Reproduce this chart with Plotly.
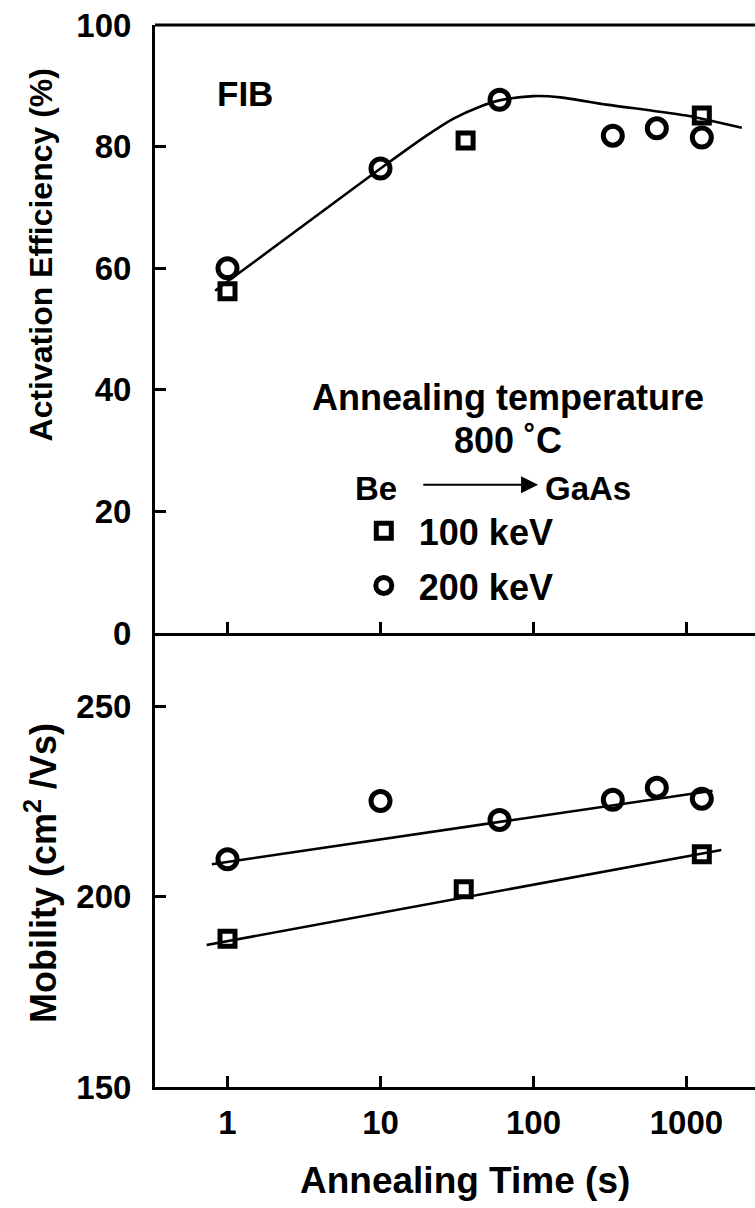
import plotly.graph_objects as go
from plotly.subplots import make_subplots

# ---------------- data ----------------
# Activation efficiency (%), top panel
time_100 = [1, 36, 1260]
eff_100 = [56.2, 81.0, 85.1]
time_200 = [1, 10, 60, 330, 640, 1260]
eff_200 = [60.0, 76.4, 87.7, 81.8, 83.0, 81.5]

# guide curve through the efficiency data
eff_fit_time = [0.83, 1, 2, 5, 10, 20, 30, 45, 60, 100, 150, 300, 600, 1000, 1600, 2300]
eff_fit = [56.3, 57.8, 63.4, 70.8, 76.4, 81.8, 84.6, 86.6, 87.6, 88.3, 88.1, 86.9, 85.9, 85.1, 84.0, 83.1]

# Mobility (cm2/Vs), bottom panel
mob_time_100 = [1, 35, 1260]
mob_100 = [188.9, 201.9, 211.1]
mob_time_200 = [1, 10, 60, 330, 640, 1260]
mob_200 = [209.8, 225.1, 220.1, 225.4, 228.6, 225.7]

# straight guide lines through the mobility data
mob_fit_time_200 = [0.79, 1480]
mob_fit_200 = [208.5, 227.8]
mob_fit_time_100 = [0.73, 1690]
mob_fit_100 = [187.3, 212.2]

x_tickvals = [1, 10, 100, 1000]
x_ticktext = ["1", "10", "100", "1000"]
eff_ticks = [0, 20, 40, 60, 80, 100]
mob_ticks = [150, 200, 250]

# ---------------- figure ----------------
FONT = "Liberation Sans, Arial, Helvetica, sans-serif"
BLACK = "black"

fig = make_subplots(rows=2, cols=1, shared_xaxes=False, vertical_spacing=0,
                    row_heights=[0.5725, 0.4275])

sq_marker = dict(symbol="square-open", size=15, color=BLACK, line=dict(width=5, color=BLACK))
ci_marker = dict(symbol="circle-open", size=19, color=BLACK, line=dict(width=5, color=BLACK))
line_style = dict(color=BLACK, width=2.6)

# top panel
fig.add_trace(go.Scatter(x=eff_fit_time, y=eff_fit, mode="lines",
                         line=dict(shape="spline", smoothing=0.8, **line_style),
                         showlegend=False, hoverinfo="skip"), row=1, col=1)
fig.add_trace(go.Scatter(x=time_100, y=eff_100, mode="markers", marker=sq_marker, name="100 keV",
                         legendgroup="a", showlegend=True), row=1, col=1)
fig.add_trace(go.Scatter(x=time_200, y=eff_200, mode="markers", marker=ci_marker, name="200 keV",
                         legendgroup="b", showlegend=True), row=1, col=1)

# bottom panel
fig.add_trace(go.Scatter(x=mob_fit_time_200, y=mob_fit_200, mode="lines", line=line_style,
                         showlegend=False, hoverinfo="skip"), row=2, col=1)
fig.add_trace(go.Scatter(x=mob_fit_time_100, y=mob_fit_100, mode="lines", line=line_style,
                         showlegend=False, hoverinfo="skip"), row=2, col=1)
fig.add_trace(go.Scatter(x=mob_time_100, y=mob_100, mode="markers", marker=sq_marker, name="100 keV",
                         legendgroup="a", showlegend=False), row=2, col=1)
fig.add_trace(go.Scatter(x=mob_time_200, y=mob_200, mode="markers", marker=ci_marker, name="200 keV",
                         legendgroup="b", showlegend=False), row=2, col=1)

tickfont = dict(family=FONT, size=33, color=BLACK, weight=700)
axis_common = dict(showline=True, linewidth=3, linecolor=BLACK, ticks="inside", ticklen=11,
                   tickwidth=2.5, tickcolor=BLACK, showgrid=False, zeroline=False, tickfont=tickfont)

xrange = [-0.474, 3.448]
fig.update_xaxes(type="log", range=xrange, tickvals=x_tickvals, ticktext=x_ticktext, **axis_common)
fig.update_xaxes(showticklabels=False, row=1, col=1)
fig.update_xaxes(ticklabelstandoff=4, row=2, col=1)
fig.update_yaxes(range=[0, 100], tickvals=eff_ticks, ticklabelstandoff=14, row=1, col=1, **axis_common)
fig.update_yaxes(range=[150, 269.2], tickvals=mob_ticks, ticklabelstandoff=14, row=2, col=1, **axis_common)

ann_font = dict(family=FONT, size=36, color=BLACK, weight=700)
small_font = dict(family=FONT, size=33, color=BLACK, weight=700)
annotations = [
    dict(text="FIB", x=0.114, y=88.7, xref="x", yref="y", showarrow=False,
         xanchor="center", yanchor="middle",
         font=dict(family=FONT, size=35, color=BLACK, weight=700)),
    dict(text="Annealing temperature", x=1.833, y=38.7, xref="x", yref="y", showarrow=False,
         xanchor="center", yanchor="middle", font=ann_font),
    dict(text="800 ˚C", x=1.833, y=31.6, xref="x", yref="y", showarrow=False,
         xanchor="center", yanchor="middle", font=ann_font),
    dict(text="Be", x=0.97, y=23.8, xref="x", yref="y", showarrow=False,
         xanchor="center", yanchor="middle", font=small_font),
    dict(text="GaAs", x=2.06, y=23.8, xref="x", yref="y", showarrow=False,
         xanchor="left", yanchor="middle", font=small_font),
    dict(text="", x=2.03, y=24.4, ax=1.27, ay=24.4, xref="x", yref="y", axref="x", ayref="y",
         showarrow=True, arrowhead=2, arrowsize=1.7, arrowwidth=2, arrowcolor=BLACK),
    dict(text="Activation Efficiency (%)", x=-0.19, y=0.783, xref="paper", yref="paper",
         xanchor="center", yanchor="middle",
         showarrow=False, textangle=-90, font=dict(family=FONT, size=32, color=BLACK, weight=700)),
    dict(text="Mobility (cm<sup>2</sup> /Vs)", x=-0.19, y=0.2015, xref="paper", yref="paper",
         xanchor="center", yanchor="middle",
         showarrow=False, textangle=-90, font=dict(family=FONT, size=36, color=BLACK, weight=700)),
    dict(text="Annealing Time (s)", x=0.517, y=-0.0876, xref="paper", yref="paper",
         xanchor="center", yanchor="middle",
         showarrow=False, font=dict(family=FONT, size=37, color=BLACK, weight=700)),
]

fig.update_layout(
    width=755, height=1208,
    margin=dict(l=155, r=0, t=25, b=121, pad=0),
    paper_bgcolor="white", plot_bgcolor="white",
    annotations=annotations,
    shapes=[dict(type="line", xref="paper", yref="paper", x0=0, x1=1, y0=1, y1=1,
                 line=dict(color=BLACK, width=3))],
    legend=dict(x=0.323, y=0.552, xanchor="left", yanchor="top", bgcolor="rgba(0,0,0,0)",
                font=dict(family=FONT, size=36, color=BLACK, weight=700),
                traceorder="grouped", tracegroupgap=5, itemwidth=60, borderwidth=0),
    showlegend=True,
)

fig.write_html("out.html")
